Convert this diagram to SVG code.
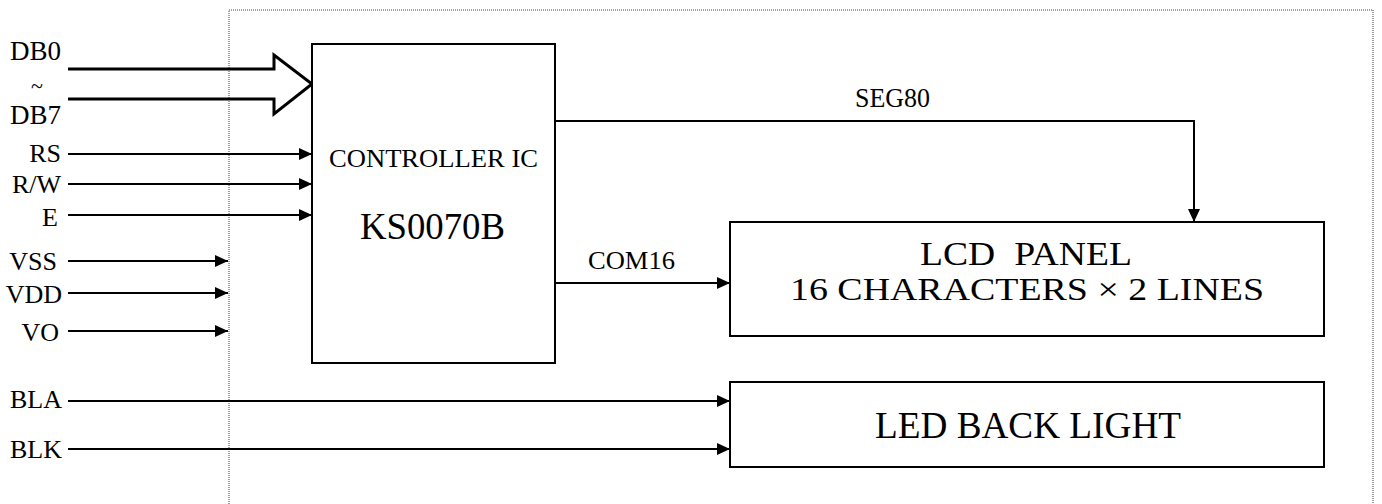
<svg xmlns="http://www.w3.org/2000/svg" width="1382" height="504" viewBox="0 0 1382 504">
<defs>
<marker id="arr" markerUnits="userSpaceOnUse" markerWidth="13" markerHeight="12" refX="13" refY="6" orient="auto">
<path d="M0,0 L13,6 L0,12 Z" fill="#000"/>
</marker>
<style>
text{font-family:"Liberation Serif","Times New Roman",serif;fill:#000}
.lbl{font-size:26px;text-anchor:end}
.box{fill:#fff;stroke:#000;stroke-width:2}
.wire{fill:none;stroke:#000;stroke-width:2;marker-end:url(#arr)}
.bus{fill:none;stroke:#000;stroke-width:3;stroke-linejoin:miter}
</style>
</defs>
<rect width="1382" height="504" fill="#fff"/>
<rect id="frame" x="229" y="10" width="1144" height="520" fill="none" stroke="#444" stroke-width="1" stroke-dasharray="1,1"/>
<g id="labels">
<text class="lbl" x="61" y="60" style="font-size:27px">DB0</text>
<text x="37" y="93" style="font-size:22px;text-anchor:middle">~</text>
<text class="lbl" x="61" y="124" style="font-size:27px">DB7</text>
<text class="lbl" x="61" y="162">RS</text>
<text class="lbl" x="61" y="193">R/W</text>
<text class="lbl" x="58" y="226">E</text>
<text class="lbl" x="57" y="270">VSS</text>
<text class="lbl" x="62" y="303">VDD</text>
<text class="lbl" x="59" y="341">VO</text>
<text class="lbl" x="62" y="408">BLA</text>
<text class="lbl" x="62" y="458">BLK</text>
</g>
<g id="connectors">
<path class="bus" d="M68,69 H274 V55 L312,84 L274,114 V99 H68"/>
<line class="wire" x1="68" y1="154" x2="312" y2="154"/>
<line class="wire" x1="68" y1="184" x2="312" y2="184"/>
<line class="wire" x1="68" y1="215" x2="312" y2="215"/>
<line class="wire" x1="68" y1="261" x2="228" y2="261"/>
<line class="wire" x1="68" y1="293" x2="228" y2="293"/>
<line class="wire" x1="68" y1="331" x2="228" y2="331"/>
<line class="wire" x1="68" y1="401" x2="730" y2="401"/>
<line class="wire" x1="68" y1="449" x2="730" y2="449"/>
<path class="wire" d="M555,121 H1194 V222"/>
<line class="wire" x1="555" y1="283" x2="730" y2="283"/>
<text x="855" y="107" style="font-size:27px" textLength="75" lengthAdjust="spacingAndGlyphs">SEG80</text>
<text x="588" y="269" style="font-size:26px" textLength="87" lengthAdjust="spacingAndGlyphs">COM16</text>
</g>
<g id="controller">
<rect class="box" x="312" y="44" width="243" height="319"/>
<text x="329" y="167" style="font-size:26px" textLength="209" lengthAdjust="spacingAndGlyphs">CONTROLLER IC</text>
<text x="360" y="239" style="font-size:38px" textLength="145" lengthAdjust="spacingAndGlyphs">KS0070B</text>
</g>
<g id="lcd-panel">
<rect class="box" x="730" y="222" width="594" height="114"/>
<text x="920" y="265" style="font-size:33px;white-space:pre" xml:space="preserve" textLength="212" lengthAdjust="spacingAndGlyphs">LCD  PANEL</text>
<text x="790" y="300" style="font-size:32px;white-space:pre" xml:space="preserve" textLength="474" lengthAdjust="spacingAndGlyphs">16 CHARACTERS × 2 LINES</text>
</g>
<g id="led-backlight">
<rect class="box" x="730" y="382" width="594" height="85"/>
<text x="875" y="438" style="font-size:38px" textLength="306" lengthAdjust="spacingAndGlyphs">LED BACK LIGHT</text>
</g>
</svg>
